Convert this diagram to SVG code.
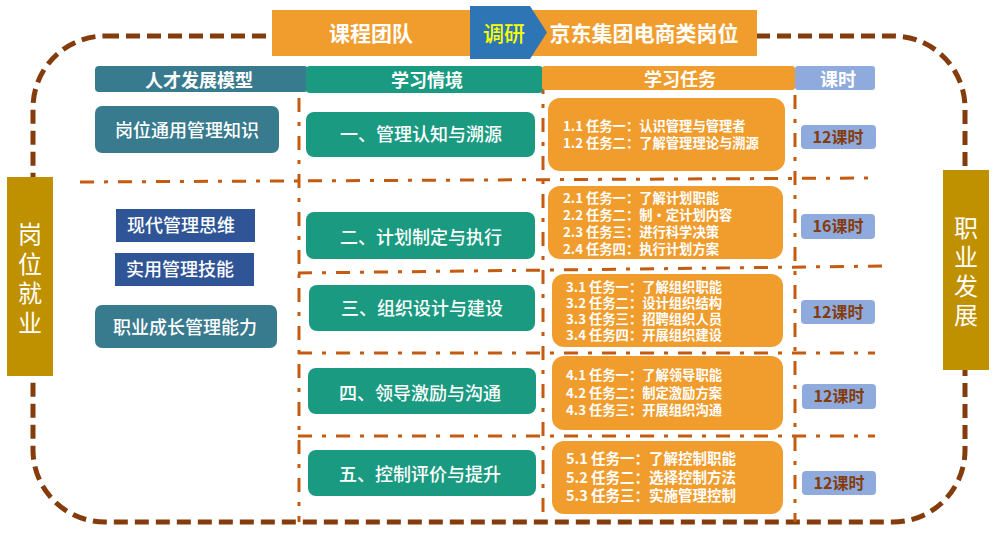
<svg xmlns="http://www.w3.org/2000/svg" width="999" height="535" viewBox="0 0 999 535">
<style>
.cjk{font-family:"Noto Sans CJK SC","Liberation Sans",sans-serif}
.hd{font-size:18px;font-weight:bold;fill:#fff;text-anchor:middle}
.top{font-size:21px;font-weight:bold;fill:#fff;text-anchor:middle}
.lt{font-size:18px;fill:#fff;text-anchor:middle;font-weight:500}
.gt{font-size:18px;fill:#fff;text-anchor:middle;font-weight:500}
.tk{font-size:13.3px;font-weight:bold;fill:#fff}
.tk5{font-size:14.5px;font-weight:bold;fill:#fff}
.hr{font-size:16px;font-weight:bold;fill:#843C0C;text-anchor:middle}
.vt{font-size:24px;fill:#fff;writing-mode:tb;glyph-orientation-vertical:0}
.dd{fill:none;stroke:#C55A11;stroke-width:3;stroke-dasharray:14 10 4 10}
.orange{fill:#F09D2E}
.teal{fill:#387A8E}
.green{fill:#1A9A80}
.navy{fill:#2F5597}
.lblue{fill:#8FAADC}
.gold{fill:#BF9000}
</style>
<rect width="999" height="535" fill="#fff"/>
<g id="connectors">
<rect x="33" y="36" width="932" height="486" rx="72" ry="72" fill="none" stroke="#843C0C" stroke-width="5" stroke-dasharray="14 7"/>
<line class="dd" x1="80" y1="182" x2="875" y2="178"/>
<line class="dd" x1="298" y1="273" x2="888" y2="266"/>
<line class="dd" x1="298" y1="353" x2="875" y2="353"/>
<line class="dd" x1="298" y1="436" x2="875" y2="436"/>
<line class="dd" x1="299" y1="98" x2="299" y2="522"/>
<line class="dd" x1="543" y1="80" x2="543" y2="522"/>
<line class="dd" x1="795" y1="95" x2="795" y2="522"/>
</g>
<g id="team">
<rect class="orange" x="272" y="10" width="198" height="46"/>
<text class="cjk top" x="371" y="41">课程团队</text>
</g>
<g id="jd">
<rect class="orange" x="528" y="10" width="229" height="46"/>
<text class="cjk top" x="644" y="41">京东集团电商类岗位</text>
</g>
<g id="research">
<polygon points="470,6 530,6 547,32.5 530,59 470,59" fill="#2E75B6"/>
<text class="cjk" x="504" y="41" font-size="21px" fill="#FFFF00" text-anchor="middle" font-weight="500">调研</text>
</g>
<g id="hdr-model">
<rect class="teal" x="95" y="66" width="213" height="26" rx="4"/>
<text class="cjk hd" x="199" y="87">人才发展模型</text>
</g>
<g id="hdr-scene">
<rect class="green" x="306" y="66" width="237" height="27" rx="4"/>
<text class="cjk hd" x="427" y="87">学习情境</text>
</g>
<g id="hdr-task">
<rect class="orange" x="542" y="66" width="253" height="24" rx="3"/>
<text class="cjk hd" x="680" y="86">学习任务</text>
</g>
<g id="hdr-hour">
<rect class="lblue" x="795" y="66" width="80" height="24" rx="3"/>
<text class="cjk hd" x="838" y="86">课时</text>
</g>
<g id="left-bar">
<rect class="gold" x="7" y="177" width="46" height="199"/>
<text class="cjk vt" x="30" y="222" letter-spacing="5.5">岗位就业</text>
</g>
<g id="right-bar">
<rect class="gold" x="943" y="170" width="46" height="200"/>
<text class="cjk vt" x="966" y="216" letter-spacing="5">职业发展</text>
</g>
<g id="m1">
<rect class="teal" x="95" y="106" width="184" height="47" rx="7"/>
<text class="cjk lt" x="187" y="137">岗位通用管理知识</text>
</g>
<g id="m2">
<rect class="navy" x="116" y="209" width="139" height="33"/>
<text class="cjk lt" x="181" y="232">现代管理思维</text>
</g>
<g id="m3">
<rect class="navy" x="115" y="253" width="139" height="33"/>
<text class="cjk lt" x="180" y="276">实用管理技能</text>
</g>
<g id="m4">
<rect class="teal" x="95" y="305" width="182" height="43" rx="7"/>
<text class="cjk lt" x="185" y="334">职业成长管理能力</text>
</g>
<g id="s1">
<rect class="green" x="306" y="112" width="229" height="45" rx="8"/>
<text class="cjk gt" x="421" y="141">一、管理认知与溯源</text>
</g>
<g id="s2">
<rect class="green" x="306" y="212" width="229" height="47" rx="8"/>
<text class="cjk gt" x="421" y="244">二、计划制定与执行</text>
</g>
<g id="s3">
<rect class="green" x="309" y="285" width="226" height="46" rx="8"/>
<text class="cjk gt" x="422" y="315">三、组织设计与建设</text>
</g>
<g id="s4">
<rect class="green" x="308" y="368" width="228" height="46" rx="8"/>
<text class="cjk gt" x="420" y="400">四、领导激励与沟通</text>
</g>
<g id="s5">
<rect class="green" x="308" y="450" width="228" height="46" rx="8"/>
<text class="cjk gt" x="420" y="481">五、控制评价与提升</text>
</g>
<g id="t1">
<rect class="orange" x="548" y="98" width="237" height="73" rx="12"/>
<text class="cjk tk"><tspan x="563" y="131">1.1 任务一：认识管理与管理者</tspan><tspan x="563" y="148">1.2 任务二：了解管理理论与溯源</tspan></text>
</g>
<g id="t2">
<rect class="orange" x="548" y="186" width="235" height="73" rx="12"/>
<text class="cjk tk"><tspan x="563" y="203">2.1 任务一：了解计划职能</tspan><tspan x="563" y="220">2.2 任务二：制·定计划内容</tspan><tspan x="563" y="237">2.3 任务三：进行科学决策</tspan><tspan x="563" y="254">2.4 任务四：执行计划方案</tspan></text>
</g>
<g id="t3">
<rect class="orange" x="552" y="274" width="231" height="73" rx="12"/>
<text class="cjk tk"><tspan x="566" y="292">3.1 任务一：了解组织职能</tspan><tspan x="566" y="308">3.2 任务二：设计组织结构</tspan><tspan x="566" y="324">3.3 任务三：招聘组织人员</tspan><tspan x="566" y="340">3.4 任务四：开展组织建设</tspan></text>
</g>
<g id="t4">
<rect class="orange" x="552" y="356" width="231" height="74" rx="12"/>
<text class="cjk tk"><tspan x="566" y="380">4.1 任务一：了解领导职能</tspan><tspan x="566" y="398">4.2 任务二：制定激励方案</tspan><tspan x="566" y="415">4.3 任务三：开展组织沟通</tspan></text>
</g>
<g id="t5">
<rect class="orange" x="552" y="441" width="231" height="73" rx="12"/>
<text class="cjk tk5"><tspan x="566" y="463.5">5.1 任务一：了解控制职能</tspan><tspan x="566" y="482.5">5.2 任务二：选择控制方法</tspan><tspan x="566" y="500.5">5.3 任务三：实施管理控制</tspan></text>
</g>
<g id="h1">
<rect class="lblue" x="801" y="125" width="75" height="24" rx="4"/>
<text class="cjk hr" x="838" y="143">12课时</text>
</g>
<g id="h2">
<rect class="lblue" x="801" y="214" width="74" height="25" rx="4"/>
<text class="cjk hr" x="838" y="232">16课时</text>
</g>
<g id="h3">
<rect class="lblue" x="801" y="300" width="74" height="24" rx="4"/>
<text class="cjk hr" x="838" y="318">12课时</text>
</g>
<g id="h4">
<rect class="lblue" x="802" y="384" width="74" height="25" rx="4"/>
<text class="cjk hr" x="839" y="402">12课时</text>
</g>
<g id="h5">
<rect class="lblue" x="802" y="471" width="74" height="24" rx="4"/>
<text class="cjk hr" x="839" y="489">12课时</text>
</g>
</svg>
